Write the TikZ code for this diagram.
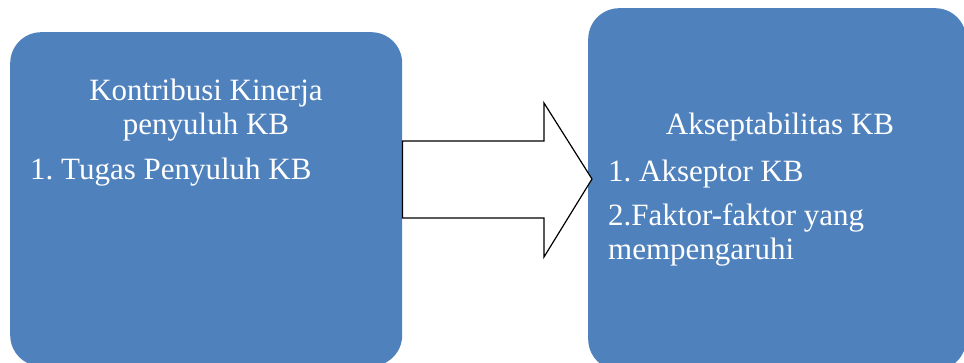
\documentclass[tikz,border=0pt]{standalone}
\usepackage{fontspec}
\setmainfont{Liberation Serif}
\frenchspacing
\definecolor{boxblue}{HTML}{4F81BD}
\begin{document}
\begin{tikzpicture}[x=1pt,y=-1pt,
  blockbox/.style={fill=boxblue, draw=none, rounded corners=31pt, inner sep=0pt},
  boxtext/.style={text=white, font=\fontsize{31}{34}\selectfont, inner sep=0pt},
  blockarrow/.style={draw=black, line width=1.2pt, fill=white, line join=miter}]
\useasboundingbox (0,0) rectangle (964,363);
\clip (0,0) rectangle (964,363);
\node[blockbox, minimum width=392pt, minimum height=334pt, anchor=north west] (left) at (10,32) {};
\node[blockbox, minimum width=378pt, minimum height=362pt, anchor=north west] (right) at (588,8) {};
\node[boxtext, anchor=base] (l1) at (206,101) {Kontribusi Kinerja};
\node[boxtext, anchor=base] (l2) at (206,135) {penyuluh KB};
\node[boxtext, anchor=base west] (l3) at (30,180) {1. Tugas Penyuluh KB};
\node[boxtext, anchor=base] (r1) at (780,135) {Akseptabilitas KB};
\node[boxtext, anchor=base west] (r2) at (608,182) {1. Akseptor KB};
\node[boxtext, anchor=base west] (r3) at (608,226) {2.Faktor-faktor yang};
\node[boxtext, anchor=base west] (r4) at (608,260) {mempengaruhi};
\draw[blockarrow] (left.east |- 0,141) -- (544,141) -- (544,103) -- (592,179)
  -- (544,257) -- (544,218) -- (left.east |- 0,218) -- cycle;
\end{tikzpicture}
\end{document}
